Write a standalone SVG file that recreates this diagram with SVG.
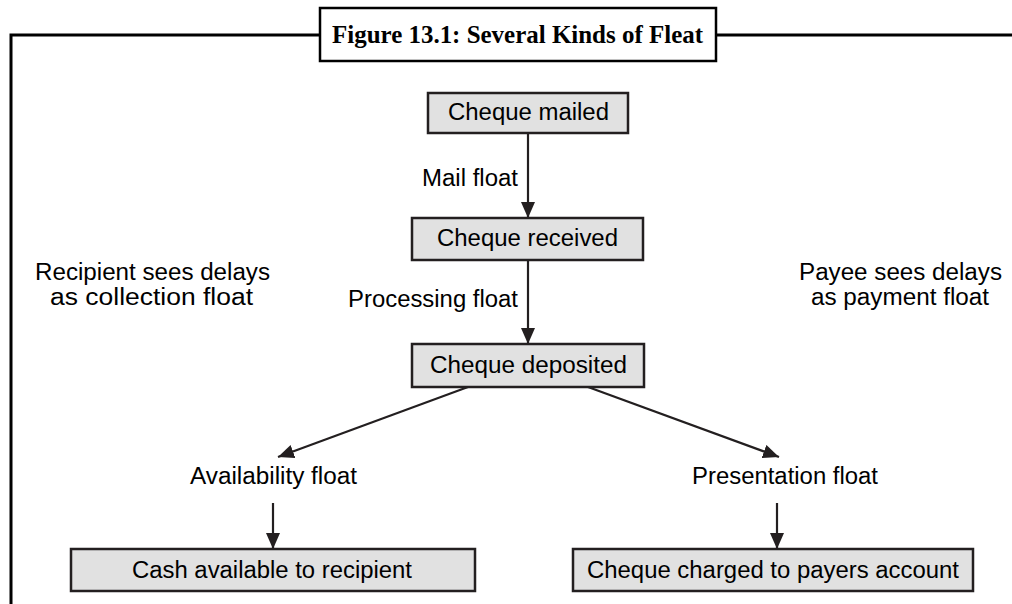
<svg xmlns="http://www.w3.org/2000/svg" width="1012" height="604" viewBox="0 0 1012 604">
<defs>
<style>
.box{fill:#e1e1e1;stroke:#231f20;stroke-width:2.5}
.t{font-family:"Liberation Sans",Arial,sans-serif;font-size:23px;fill:#000}
.edge{stroke:#231f20;stroke-width:2.2;fill:none;marker-end:url(#ah)}
.frame{stroke:#000;stroke-width:3;fill:none}
</style>
<marker id="ah" markerUnits="userSpaceOnUse" markerWidth="17" markerHeight="15" refX="16" refY="7" orient="auto">
<path d="M0,0 L16,7 L0,14 z" fill="#231f20"/>
</marker>
</defs>
<rect width="1012" height="604" fill="#fff"/>
<g id="frame">
<path class="frame" d="M11,604 V35 H320 M716,35 H1012"/>
<rect x="320" y="8" width="396" height="53" fill="#fff" stroke="#000" stroke-width="2.5"/>
<text x="332" y="43" font-family="'Liberation Serif','Times New Roman',serif" font-weight="bold" font-size="24.5" textLength="371" lengthAdjust="spacingAndGlyphs">Figure 13.1: Several Kinds of Fleat</text>
</g>
<g id="connectors">
<line class="edge" x1="528" y1="133" x2="528" y2="218"/>
<line class="edge" x1="528" y1="260" x2="528" y2="344"/>
<line class="edge" x1="468" y1="387" x2="278" y2="457"/>
<line class="edge" x1="588" y1="387" x2="779" y2="457"/>
<line class="edge" x1="273" y1="503" x2="273" y2="549"/>
<line class="edge" x1="777" y1="503" x2="777" y2="549"/>
</g>
<g id="labels">
<text class="t" x="422" y="186" textLength="96" lengthAdjust="spacingAndGlyphs">Mail float</text>
<text class="t" x="348" y="307" textLength="170" lengthAdjust="spacingAndGlyphs">Processing float</text>
<text class="t" x="190" y="484" textLength="167" lengthAdjust="spacingAndGlyphs">Availability float</text>
<text class="t" x="692" y="484" textLength="186" lengthAdjust="spacingAndGlyphs">Presentation float</text>
</g>
<g id="recipient-note">
<text class="t" x="35" y="280" textLength="235" lengthAdjust="spacingAndGlyphs">Recipient sees delays</text>
<text class="t" x="50" y="305" textLength="203" lengthAdjust="spacingAndGlyphs">as collection float</text>
</g>
<g id="payee-note">
<text class="t" x="799" y="280" textLength="203" lengthAdjust="spacingAndGlyphs">Payee sees delays</text>
<text class="t" x="811" y="305" textLength="178" lengthAdjust="spacingAndGlyphs">as payment float</text>
</g>
<g id="cheque-mailed">
<rect class="box" x="428" y="93" width="200" height="40"/>
<text class="t" x="448" y="120" textLength="161" lengthAdjust="spacingAndGlyphs">Cheque mailed</text>
</g>
<g id="cheque-received">
<rect class="box" x="412" y="218" width="231" height="42"/>
<text class="t" x="437" y="246" textLength="181" lengthAdjust="spacingAndGlyphs">Cheque received</text>
</g>
<g id="cheque-deposited">
<rect class="box" x="412" y="344" width="232" height="43"/>
<text class="t" x="430" y="373" textLength="197" lengthAdjust="spacingAndGlyphs">Cheque deposited</text>
</g>
<g id="cash-available">
<rect class="box" x="71" y="549" width="404" height="42"/>
<text class="t" x="132" y="578" textLength="280" lengthAdjust="spacingAndGlyphs">Cash available to recipient</text>
</g>
<g id="cheque-charged">
<rect class="box" x="573" y="549" width="400" height="42"/>
<text class="t" x="587" y="578" textLength="372" lengthAdjust="spacingAndGlyphs">Cheque charged to payers account</text>
</g>
</svg>
